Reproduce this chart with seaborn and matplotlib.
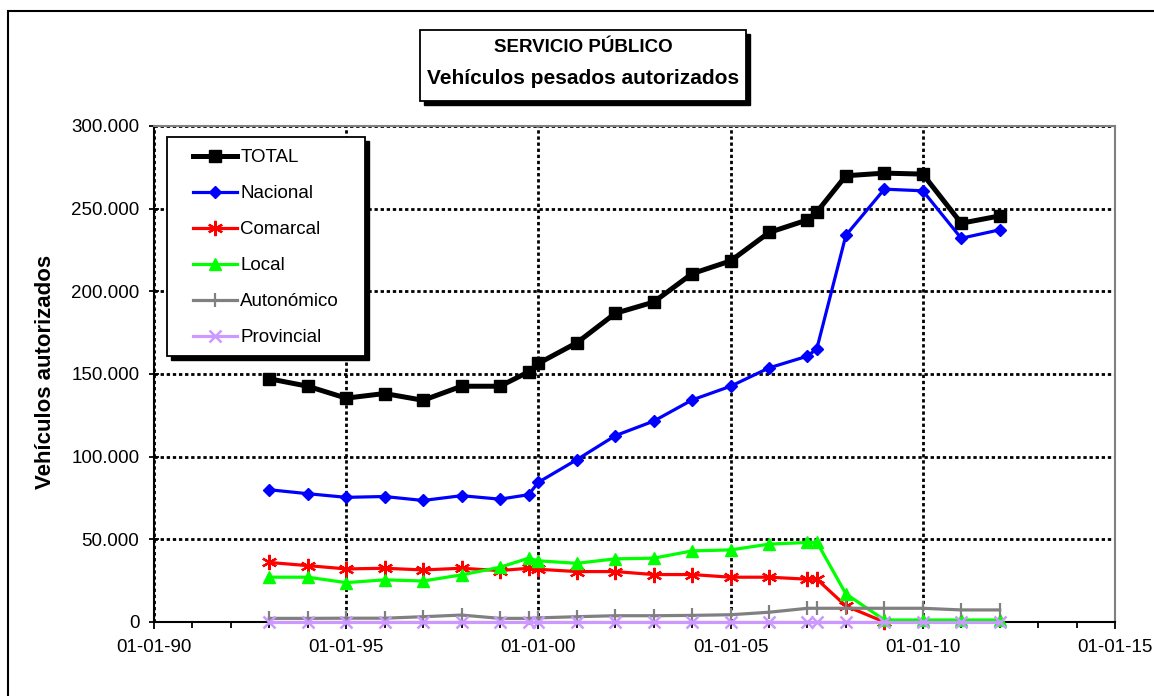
import numpy as np
import pandas as pd
import matplotlib
matplotlib.use("Agg")
import matplotlib.pyplot as plt
import matplotlib.dates as mdates
import matplotlib.ticker as mticker
from matplotlib.patches import Rectangle
import seaborn as sns

# ---------------- data ----------------
dates = ["1993-01-01", "1994-01-01", "1995-01-01", "1996-01-01", "1997-01-01",
         "1998-01-01", "1999-01-01", "1999-09-30", "2000-01-01", "2001-01-01",
         "2002-01-01", "2003-01-01", "2004-01-01", "2005-01-01", "2006-01-01",
         "2007-01-01", "2007-03-31", "2008-01-01", "2009-01-01", "2010-01-01",
         "2011-01-01", "2012-01-01"]
total = [147100, 142600, 135400, 138200, 134100, 142600, 142600, 151300, 156400, 168900,
         186700, 193500, 210700, 218400, 235600, 243200, 248000, 269900, 271500, 270900,
         241200, 245600]
nacional = [80000, 77600, 75400, 75900, 73500, 76400, 74300, 77000, 84500, 98200,
            112700, 121500, 134300, 142600, 153700, 160800, 165300, 233900, 261800, 260800,
            232100, 237200]
comarcal = [36000, 34100, 32100, 32500, 31500, 32500, 31100, 32500, 31900, 30500,
            30500, 28700, 28700, 27100, 27100, 25900, 25900, 9700, 0, None,
            None, None]
local = [27100, 27100, 23800, 25500, 24800, 28500, 33100, 38600, 37000, 35500,
         38200, 38600, 43000, 43600, 47100, 48100, 48300, 17000, 1200, 1200,
         1200, 1200]
autonomico = [2200, 2200, 2300, 2300, 3200, 4200, 2200, 2200, 2500, 3200,
              3800, 3800, 4000, 4400, 5900, 8300, 8300, 8300, 8300, 8300,
              7300, 7300]
provincial = [200, 200, 200, 200, 200, 200, 200, 200, 200, 200,
              200, 200, 200, 200, 200, 200, 200, 200, 200, 200,
              200, 200]

series_names = ["TOTAL", "Nacional", "Comarcal", "Local", "Autonómico", "Provincial"]
title_lines = ["SERVICIO PÚBLICO", "Vehículos pesados autorizados"]
y_label = "Vehículos autorizados"
x_min, x_max = "1990-01-01", "2015-01-01"
y_max = 300000

# ---------------- figure ----------------
plt.rcParams["font.family"] = ["Liberation Sans", "DejaVu Sans"]
W, H = 1154, 696
fig = plt.figure(figsize=(W / 100, H / 100), dpi=100)


def fx(px):
    return px / W


def fy(py):
    return 1 - py / H


ax_l, ax_r, ax_t, ax_b = 154, 1115, 126, 622
ax = fig.add_axes([fx(ax_l), fy(ax_b), fx(ax_r - ax_l), (ax_b - ax_t) / H])

x = pd.to_datetime(dates)
styles = [
    (total, series_names[0], "#000000", "s", 9, 3.6, 1.0),
    (nacional, series_names[1], "#0000FF", "D", 6.5, 2.3, 1.0),
    (comarcal, series_names[2], "#FF0000", (6, 2, 0), 11, 2.3, 1.6),
    (local, series_names[3], "#00FF00", "^", 8, 2.3, 1.0),
    (autonomico, series_names[4], "#808080", "|", 10, 2.3, 1.6),
    (provincial, series_names[5], "#CC99FF", "x", 8, 2.3, 1.8),
]
for vals, name, col, mk, ms, lw, mew in styles:
    y = pd.Series(vals, dtype="float64")
    sns.lineplot(x=x, y=y, ax=ax, color=col, marker=mk, markersize=ms,
                 linewidth=lw, markeredgecolor=col, markerfacecolor=col,
                 markeredgewidth=mew, label=name, zorder=3, clip_on=False)

ax.set_xlim(pd.Timestamp(x_min), pd.Timestamp(x_max))
ax.set_ylim(0, y_max)
ax.xaxis.set_major_locator(mdates.YearLocator(5))
ax.xaxis.set_minor_locator(mdates.YearLocator(1))
ax.xaxis.set_major_formatter(mdates.DateFormatter("%d-%m-%y"))
ax.yaxis.set_major_locator(mticker.MultipleLocator(50000))
ax.yaxis.set_major_formatter(mticker.FuncFormatter(lambda v, p: f"{int(v):,}".replace(",", ".")))

ax.grid(True, which="major", axis="both", color="black", linewidth=2.0,
        linestyle=(0, (1.2, 1.0)), zorder=1)
ax.set_axisbelow(True)

for s in ["left", "bottom"]:
    ax.spines[s].set_color("black")
    ax.spines[s].set_linewidth(1.5)
for s in ["top", "right"]:
    ax.spines[s].set_color("#808080")
    ax.spines[s].set_linewidth(1.5)

ax.tick_params(axis="y", which="major", direction="inout", length=7, width=1.3,
               labelsize=13.5, pad=7, colors="black")
ax.tick_params(axis="x", which="major", direction="out", length=5, width=1.3,
               labelsize=13.5, pad=7)
ax.tick_params(axis="x", which="minor", direction="out", length=4, width=1.3)

ax.set_xlabel("")
ax.set_ylabel(y_label, fontsize=16, fontweight="bold")
ax.yaxis.label.set_va("center")
ax.yaxis.set_label_coords((46 - ax_l) / (ax_r - ax_l), (ax_b - 372) / (ax_b - ax_t))

# legend (frameless) with manual box + shadow
handles, labels = ax.get_legend_handles_labels()
leg = ax.legend(handles, labels, loc="upper left",
                bbox_to_anchor=(fx(193), fy(149)), bbox_transform=fig.transFigure,
                frameon=False, fontsize=13.5, borderpad=0, labelspacing=1.01,
                handlelength=2.35, handletextpad=0.18, borderaxespad=0)
leg.set_zorder(10)

lb_l, lb_t, lb_r, lb_b = 167, 137, 365, 356
ax.add_artist(Rectangle((fx(lb_l + 4), fy(lb_b + 4)), fx(lb_r - lb_l), (lb_b - lb_t) / H,
                        transform=fig.transFigure, facecolor="black", edgecolor="black",
                        clip_on=False, zorder=8))
ax.add_artist(Rectangle((fx(lb_l), fy(lb_b)), fx(lb_r - lb_l), (lb_b - lb_t) / H,
                        transform=fig.transFigure, facecolor="white", edgecolor="black",
                        linewidth=1.3, clip_on=False, zorder=9))

# title box with shadow
tb_l, tb_t, tb_r, tb_b = 420, 30, 746, 101
fig.patches.append(Rectangle((fx(tb_l + 4), fy(tb_b + 4)), fx(tb_r - tb_l), (tb_b - tb_t) / H,
                             transform=fig.transFigure, facecolor="black", edgecolor="black",
                             zorder=5, figure=fig))
fig.patches.append(Rectangle((fx(tb_l), fy(tb_b)), fx(tb_r - tb_l), (tb_b - tb_t) / H,
                             transform=fig.transFigure, facecolor="white", edgecolor="black",
                             linewidth=1.3, zorder=6, figure=fig))
fig.text(fx(583), fy(48), title_lines[0], ha="center", va="center",
         fontsize=13.5, fontweight="bold", zorder=7)
fig.text(fx(583), fy(79), title_lines[1], ha="center", va="center",
         fontsize=15, fontweight="bold", zorder=7)

# outer chart frame (partly off-canvas, as in the reference)
fig.patches.append(Rectangle((fx(8), fy(720)), fx(1170 - 8), (720 - 11) / H,
                             transform=fig.transFigure, facecolor="none", edgecolor="black",
                             linewidth=1.5, zorder=1, figure=fig))

fig.savefig("out.png", dpi=100)
